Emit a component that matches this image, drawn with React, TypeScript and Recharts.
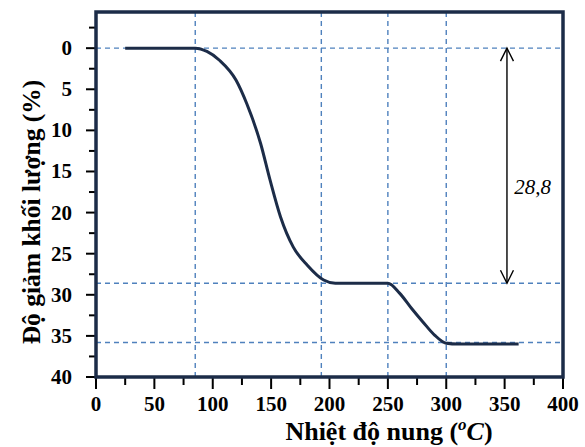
import React from 'react'
import { LineChart, Line, XAxis, YAxis, ReferenceLine, ReferenceDot } from 'recharts'

// nhiệt độ (°C) và độ giảm khối lượng (%)
const temperature = [25, 50, 85, 95, 106, 120, 129, 141, 149, 158, 169, 181, 195, 205, 250, 260, 270, 280, 290, 300, 310, 362]
const massLoss = [0, 0, 0, 0.4, 1.5, 3.9, 6.7, 11.6, 16, 20.5, 24.2, 26.4, 28.2, 28.6, 28.6, 29.8, 31.6, 33.3, 34.9, 35.9, 36, 36]

const xTicks = [0, 25, 50, 75, 100, 125, 150, 175, 200, 225, 250, 275, 300, 325, 350, 375, 400]
const yTicks = [-2.5, 0, 2.5, 5, 7.5, 10, 12.5, 15, 17.5, 20, 22.5, 25, 27.5, 30, 32.5, 35, 37.5, 40]

const xDomain = [0, 400]
const yDomain = [-4.4, 40]

const guideX = [85, 193, 250, 300]
const guideY = [0, 28.6, 35.8]
const drop = { x: 352, from: 0, to: 28.6, label: '28,8' }

const data = temperature.map((t, i) => ({ t, loss: massLoss[i] }))

const W = 585
const H = 447
const MARGIN = { top: 12, right: 22, bottom: 0, left: 0 }
const Y_AXIS_W = 96
const X_AXIS_H = 70

const FONT = 'Liberation Serif'
const NAVY = '#1c2c48'
const GUIDE = '#4f81bd'

const txt = (size: number, extra: React.CSSProperties = {}): React.CSSProperties => ({
  fontFamily: FONT,
  fontSize: size,
  fontWeight: 'bold',
  fill: '#000',
  ...extra,
})

const XTick = (props: any) => {
  const { x, y, payload } = props
  const major = payload.value % 50 === 0
  return (
    <g>
      <line x1={x} x2={x} y1={y} y2={y + (major ? 12 : 8)} stroke="#000" strokeWidth={2} />
      {major && (
        <text x={x} y={y + 34} textAnchor="middle" style={txt(21)}>
          {payload.value}
        </text>
      )}
    </g>
  )
}

const YTick = (props: any) => {
  const { x, y, payload } = props
  const major = payload.value % 5 === 0
  return (
    <g>
      <line x1={x - (major ? 10 : 7)} x2={x} y1={y} y2={y} stroke="#000" strokeWidth={2} />
      {major && payload.value >= 0 && (
        <text x={x - 24} y={y + 7} textAnchor="end" style={txt(21)}>
          {payload.value}
        </text>
      )}
    </g>
  )
}

const YLabel = () => (
  <text x={31} y={212} transform="rotate(-90 31 212)" textAnchor="middle" dominantBaseline="central" style={txt(25.5)}>
    Độ giảm khối lượng (%)
  </text>
)

const XLabel = () => (
  <text x={389} y={440} textAnchor="middle" style={txt(26)}>
    Nhiệt độ nung (
    <tspan fontStyle="italic" fontSize={17} dy={-10}>o</tspan>
    <tspan fontStyle="italic" dy={10}>C</tspan>
    )
  </text>
)

const ArrowHead = (dir: 'up' | 'down') => (props: any) => {
  const { cx, cy } = props
  const s = dir === 'up' ? 1 : -1
  return <path d={`M${cx - 6.5},${cy + s * 13} L${cx},${cy} L${cx + 6.5},${cy + s * 13}`} fill="none" stroke="#000" strokeWidth={1.4} />
}

const DropLabel = (props: any) => (
  <text x={props.cx} y={props.cy + 7} textAnchor="middle" style={txt(21, { fontWeight: 'normal', fontStyle: 'italic' })}>
    {drop.label}
  </text>
)

// khung quanh vùng vẽ, lấy từ lề và kích thước trục
const plotLeft = MARGIN.left + Y_AXIS_W
const plotTop = MARGIN.top
const plotW = W - MARGIN.right - plotLeft
const plotH = H - MARGIN.bottom - X_AXIS_H - plotTop

export default function App() {
  return (
    <div style={{ position: 'absolute', left: 0, top: 0, width: W, height: H, background: '#fff' }}>
      <LineChart width={W} height={H} data={data} margin={MARGIN}>
        <XAxis
          dataKey="t"
          type="number"
          domain={xDomain}
          ticks={xTicks}
          interval={0}
          allowDataOverflow
          axisLine={false}
          tickLine={false}
          tickSize={0}
          tickMargin={0}
          tick={<XTick />}
          height={X_AXIS_H}
          label={<XLabel />}
        />
        <YAxis
          type="number"
          domain={yDomain}
          ticks={yTicks}
          interval={0}
          reversed
          allowDataOverflow
          axisLine={false}
          tickLine={false}
          tickSize={0}
          tickMargin={0}
          tick={<YTick />}
          width={Y_AXIS_W}
          label={<YLabel />}
        />
        {guideX.map((v) => (
          <ReferenceLine key={'x' + v} x={v} stroke={GUIDE} strokeWidth={1.4} strokeDasharray="5 4" />
        ))}
        {guideY.map((v) => (
          <ReferenceLine key={'y' + v} y={v} stroke={GUIDE} strokeWidth={1.4} strokeDasharray="5 4" />
        ))}
        <ReferenceLine
          segment={[{ x: drop.x, y: drop.from }, { x: drop.x, y: drop.to }]}
          stroke="#000"
          strokeWidth={1.4}
        />
        <ReferenceDot x={drop.x} y={drop.from} shape={ArrowHead('up')} />
        <ReferenceDot x={drop.x} y={drop.to} shape={ArrowHead('down')} />
        <ReferenceDot x={374} y={16.9} shape={DropLabel} />
        <Line
          type="monotone"
          dataKey="loss"
          stroke={NAVY}
          strokeWidth={3}
          dot={false}
          isAnimationActive={false}
        />
      </LineChart>
      <svg width={W} height={H} style={{ position: 'absolute', left: 0, top: 0, pointerEvents: 'none' }}>
        <rect x={plotLeft} y={plotTop} width={plotW} height={plotH} fill="none" stroke={NAVY} strokeWidth={3.5} />
      </svg>
    </div>
  )
}
